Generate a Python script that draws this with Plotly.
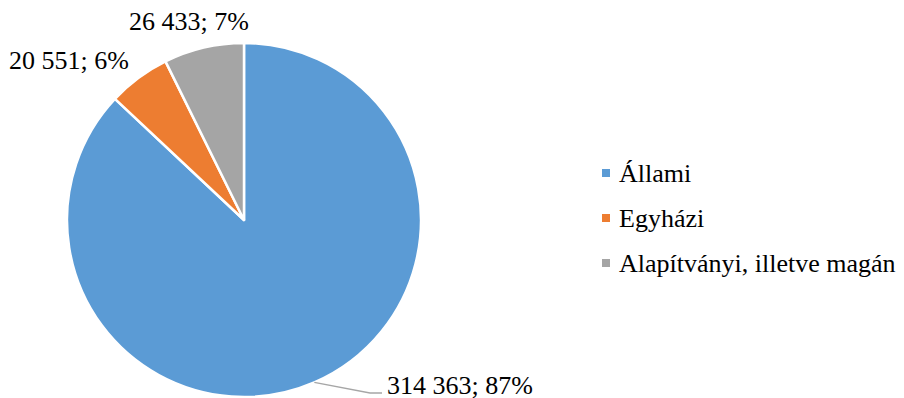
import math
import plotly.graph_objects as go

# Data
labels = ["Állami", "Egyházi", "Alapítványi, illetve magán"]
values = [314363, 20551, 26433]
colors = ["#5B9BD5", "#ED7D31", "#A5A5A5"]

W, H = 904, 398
FONT = dict(family="Liberation Serif", size=26, color="#000000")

# Pie geometry in pixels
cx, cy, r = 244, 220, 177


def px(x):
    return x / W


def py(y):
    return 1 - y / H


total = sum(values)
pcts = [v / total * 100 for v in values]


def fmt(v, p):
    return f"{v:,}".replace(",", " ") + f"; {round(p):.0f}%"


texts = [fmt(v, p) for v, p in zip(values, pcts)]

fig = go.Figure(
    go.Pie(
        labels=labels,
        values=values,
        sort=False,
        direction="clockwise",
        rotation=0,
        marker=dict(colors=colors, line=dict(color="#FFFFFF", width=2.5)),
        textinfo="none",
        hoverinfo="label+value+percent",
        showlegend=False,
        domain=dict(x=[px(cx - r), px(cx + r)], y=[py(cy + r), py(cy - r)]),
    )
)

# Mid-angle of each slice (clockwise from 12 o'clock)
mids = []
acc = 0
for v in values:
    mids.append((acc + v / 2) / total * 2 * math.pi)
    acc += v


def edge(i, k=1.0):
    a = mids[i]
    return cx + k * r * math.sin(a), cy - k * r * math.cos(a)


shapes = []
annotations = []

# Leader line for the large slice label
x0, y0 = edge(0)
path = f"M{px(x0)},{py(y0)} L{px(370)},{py(393)} L{px(382)},{py(393)}"
shapes.append(dict(type="path", path=path, xref="paper", yref="paper",
                   line=dict(color="#A6A6A6", width=1.3)))

# Data labels
label_pos = [
    (385, 385, "left"),
    (131, 60, "right"),
    (189, 21, "center"),
]
for t, (lx, ly, anc) in zip(texts, label_pos):
    annotations.append(dict(x=px(lx), y=py(ly), xref="paper", yref="paper",
                            text=t, showarrow=False, xanchor=anc, yanchor="middle",
                            height=26, font=FONT))

# Legend
leg_y = [173, 218, 263]
for lab, col, ly in zip(labels, colors, leg_y):
    shapes.append(dict(type="rect", xref="paper", yref="paper",
                       x0=px(602), x1=px(610), y0=py(ly + 4), y1=py(ly - 4),
                       fillcolor=col, line=dict(width=0)))
    annotations.append(dict(x=px(617), y=py(ly), xref="paper", yref="paper",
                            text=lab, showarrow=False, xanchor="left", yanchor="middle",
                            font=FONT))

fig.update_layout(
    width=W, height=H,
    margin=dict(l=0, r=0, t=0, b=0),
    paper_bgcolor="#FFFFFF",
    plot_bgcolor="#FFFFFF",
    shapes=shapes,
    annotations=annotations,
)

fig.write_html("out.html")
